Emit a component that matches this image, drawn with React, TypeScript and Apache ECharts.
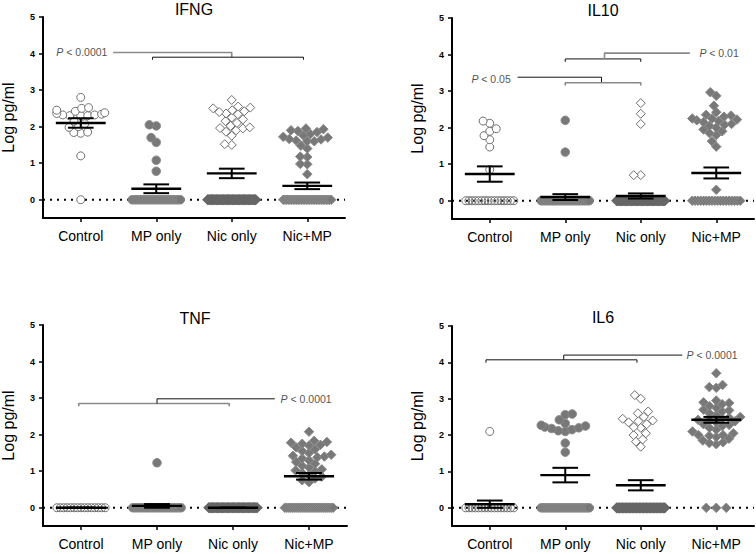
import React, { useEffect, useRef } from 'react';
import * as echarts from 'echarts';

const categories = ['Control', 'MP only', 'Nic only', 'Nic+MP'];
const yTickValues = [0, 1, 2, 3, 4, 5];
const panelTitles = ['IFNG', 'IL10', 'TNF', 'IL6'];

// ---- IFNG (non-zero values per group, number of zero values per group, mean, SEM)
const ifngControl = [2.8, 2.52, 2.5, 2.45, 2.42, 2.38, 2.34, 2.32, 2.3, 2.3, 2.3, 2.32, 2.36, 2.15, 2.08, 2.0, 1.98, 1.85, 1.84, 1.82, 1.2];
const ifngMP = [2.05, 2.02, 1.7, 1.57, 1.08, 0.78];
const ifngNic = [2.73, 2.55, 2.52, 2.5, 2.45, 2.42, 2.4, 2.36, 2.34, 2.25, 2.2, 2.15, 2.1, 2.02, 1.98, 1.96, 1.95, 1.9, 1.86, 1.75, 1.52, 1.5];
const ifngNicMP = [1.95, 1.93, 1.9, 1.88, 1.85, 1.8, 1.76, 1.72, 1.66, 1.62, 1.6, 1.6, 1.65, 1.7, 1.48, 1.4, 1.18, 1.17, 0.98, 0.97, 0.7];
const ifngZeroCounts = [1, 25, 40, 30];
const ifngMeans = [2.1, 0.3, 0.72, 0.38];
const ifngSem = [0.13, 0.12, 0.13, 0.09];

// ---- IL10
const il10Control = [2.18, 2.12, 1.97, 1.9, 1.78, 1.67, 1.47, 0.85];
const il10MP = [2.2, 1.33];
const il10Nic = [2.67, 2.38, 2.1, 0.7, 0.7];
const il10NicMP = [2.97, 2.87, 2.6, 2.42, 2.35, 2.33, 2.3, 2.25, 2.25, 2.22, 2.2, 2.18, 2.15, 2.1, 2.08, 2.05, 2.0, 1.95, 1.9, 1.85, 1.8, 1.63, 1.48, 0.3];
const il10ZeroCounts = [16, 25, 40, 18];
const il10Means = [0.73, 0.1, 0.13, 0.76];
const il10Sem = [0.21, 0.08, 0.07, 0.15];

// ---- TNF
const tnfControl: number[] = [];
const tnfMP = [1.23];
const tnfNic: number[] = [];
const tnfNicMP = [2.08, 1.83, 1.8, 1.78, 1.75, 1.72, 1.7, 1.65, 1.6, 1.55, 1.5, 1.45, 1.42, 1.4, 1.38, 1.35, 1.3, 1.25, 1.2, 1.15, 1.1, 1.05, 1.02, 1.0, 0.95, 0.9, 0.85, 0.8, 0.75, 0.7];
const tnfZeroCounts = [15, 25, 40, 25];
const tnfMeans = [0, 0.05, 0, 0.86];
const tnfSem = [0, 0.05, 0, 0.09];

// ---- IL6
const il6Control = [2.1];
const il6MP = [2.58, 2.56, 2.42, 2.32, 2.27, 2.25, 2.22, 2.2, 2.18, 2.15, 2.12, 2.1, 1.78, 1.53];
const il6Nic = [3.1, 3.0, 2.65, 2.6, 2.5, 2.45, 2.4, 2.38, 2.35, 2.3, 2.22, 2.2, 2.05, 2.0, 1.88, 1.82, 1.68];
const il6NicMP = [3.7, 3.38, 3.32, 3.3, 2.95, 2.9, 2.88, 2.85, 2.8, 2.75, 2.7, 2.68, 2.65, 2.6, 2.55, 2.5, 2.48, 2.45, 2.42, 2.4, 2.38, 2.35, 2.3, 2.28, 2.25, 2.2, 2.15, 2.1, 2.05, 2.0, 2.0, 1.98, 1.95, 1.9, 1.85, 1.8, 1.78, 1.75];
const il6ZeroCounts = [16, 25, 35, 3];
const il6Means = [0.1, 0.9, 0.62, 2.42];
const il6Sem = [0.1, 0.2, 0.14, 0.08];

// ---- significance annotations (data coordinates: x in category units, y in Log pg/ml)
const ifngBrackets = [
  { tone: 'grey', pts: [[0.43, 4.03], [2.0, 4.03], [2.0, 3.9]] },
  { tone: 'black', pts: [[0.95, 3.83], [0.95, 3.9], [2.95, 3.9], [2.95, 3.83]] },
];
const ifngPLabels = [{ x: -0.33, y: 4.03, text: '< 0.0001' }];

const il10Brackets = [
  { tone: 'black', pts: [[1, 3.8], [1, 3.88], [2, 3.88], [2, 3.8]] },
  { tone: 'grey', pts: [[1.52, 3.88], [1.52, 4.04], [2.65, 4.04]] },
  { tone: 'black', pts: [[0.37, 3.38], [1.48, 3.38], [1.48, 3.23]] },
  { tone: 'grey', pts: [[1, 3.15], [1, 3.23], [2, 3.23], [2, 3.15]] },
];
const il10PLabels = [
  { x: 2.77, y: 4.04, text: '< 0.01' },
  { x: -0.25, y: 3.34, text: '< 0.05' },
];

const tnfBrackets = [
  { tone: 'grey', pts: [[-0.03, 2.78], [-0.03, 2.85], [1.95, 2.85], [1.95, 2.78]] },
  { tone: 'black', pts: [[1, 2.85], [1, 2.98], [2.55, 2.98]] },
];
const tnfPLabels = [{ x: 2.62, y: 2.97, text: '< 0.0001' }];

const il6Brackets = [
  { tone: 'black', pts: [[-0.05, 3.99], [-0.05, 4.07], [1.95, 4.07], [1.95, 3.99]] },
  { tone: 'black', pts: [[0.98, 4.07], [0.98, 4.2], [2.55, 4.2]] },
];
const il6PLabels = [{ x: 2.6, y: 4.2, text: '< 0.0001' }];

const panels = [
  { groups: [ifngControl, ifngMP, ifngNic, ifngNicMP], zeros: ifngZeroCounts, means: ifngMeans, sem: ifngSem, brackets: ifngBrackets, pLabels: ifngPLabels },
  { groups: [il10Control, il10MP, il10Nic, il10NicMP], zeros: il10ZeroCounts, means: il10Means, sem: il10Sem, brackets: il10Brackets, pLabels: il10PLabels },
  { groups: [tnfControl, tnfMP, tnfNic, tnfNicMP], zeros: tnfZeroCounts, means: tnfMeans, sem: tnfSem, brackets: tnfBrackets, pLabels: tnfPLabels },
  { groups: [il6Control, il6MP, il6Nic, il6NicMP], zeros: il6ZeroCounts, means: il6Means, sem: il6Sem, brackets: il6Brackets, pLabels: il6PLabels },
];

// ---- layout / style
const FONT = '"Liberation Sans", Arial, Helvetica, sans-serif';
const gridBoxes = [
  { left: 43, top: 17, width: 302, height: 201 },
  { left: 452, top: 18, width: 302, height: 201 },
  { left: 43, top: 325, width: 304, height: 201 },
  { left: 452, top: 326, width: 302, height: 200 },
];
const titlePos = [
  { x: 194, y: 9 },
  { x: 603, y: 10 },
  { x: 195, y: 318 },
  { x: 603, y: 317 },
];
const markerStyles = [
  { symbol: 'circle', size: 8, fill: '#ffffff', stroke: '#707070', open: true },
  { symbol: 'circle', size: 8.5, fill: '#787878', stroke: '#8a8a8a', open: false },
  { symbol: 'diamond', size: 9, fill: '#ffffff', stroke: '#6e6e6e', open: true },
  { symbol: 'diamond', size: 9.5, fill: '#787878', stroke: '#8a8a8a', open: false },
];
const toneColor: Record<string, string> = { grey: '#8a8a8a', black: '#111111' };
const toneWidth: Record<string, number> = { grey: 1.6, black: 1 };

// beeswarm placement (pixel scale approximations used only for spreading points)
const PX_X = 75.5;
const PX_Y = 36.6;
const D = 7;
const MAXW = 24;
const ZERO_STEP = 10;

function swarm(values: number[], zeroCount: number, cat: number, open: boolean): any[] {
  const placed: { x: number; y: number }[] = [];
  const out: any[] = [];
  const sorted = values.slice().sort((a, b) => a - b);
  for (const v of sorted) {
    const y = v * PX_Y;
    const intervals: [number, number][] = [];
    for (const p of placed) {
      const dy = Math.abs(p.y - y);
      if (dy < D) {
        const h = Math.sqrt(D * D - dy * dy);
        intervals.push([p.x - h, p.x + h]);
      }
    }
    const cands = [0];
    intervals.forEach(([a, b]) => cands.push(a, b));
    cands.sort((a, b) => Math.abs(a) - Math.abs(b) || a - b);
    let x = 0;
    for (const c of cands) {
      if (intervals.every(([a, b]) => c <= a + 1e-6 || c >= b - 1e-6)) {
        x = c;
        break;
      }
    }
    x = Math.max(-MAXW, Math.min(MAXW, x));
    placed.push({ x, y });
    out.push({ value: [cat + x / PX_X, v] });
  }
  const w = Math.min(((zeroCount - 1) * ZERO_STEP) / 2, MAXW);
  const dense = zeroCount >= 30;
  for (let i = 0; i < zeroCount; i++) {
    const x = zeroCount === 1 ? 0 : -w + (2 * w * i) / (zeroCount - 1);
    const item: any = { value: [cat + x / PX_X, 0] };
    if (open && zeroCount > 1) {
      item.itemStyle = dense
        ? { color: 'rgba(255,255,255,0)', borderColor: '#666', borderWidth: 1.6 }
        : { color: 'rgba(255,255,255,0)' };
    }
    out.push(item);
  }
  return out;
}

function buildOption() {
  const grid: any[] = [];
  const xAxis: any[] = [];
  const yAxis: any[] = [];
  const series: any[] = [];
  const graphic: any[] = [];

  panels.forEach((panel, p) => {
    grid.push({ ...gridBoxes[p], outerBoundsMode: 'none' });
    xAxis.push({
      gridIndex: p,
      type: 'category',
      data: categories,
      boundaryGap: true,
      axisLine: { show: true, onZero: false, lineStyle: { color: '#000', width: 2 } },
      axisTick: { show: true, alignWithLabel: true, length: 4, lineStyle: { color: '#000', width: 1.5 } },
      axisLabel: { interval: 0, fontSize: 14, color: '#000', margin: 11, fontFamily: FONT },
      splitLine: { show: false },
    });
    xAxis.push({ gridIndex: p, type: 'value', min: -0.5, max: 3.5, show: false });
    yAxis.push({
      gridIndex: p,
      type: 'value',
      min: -0.5,
      max: 5,
      axisLine: { show: true, onZero: false, lineStyle: { color: '#000', width: 2 } },
      axisTick: { show: true, customValues: yTickValues, length: 4, lineStyle: { color: '#000', width: 1.5 } },
      axisLabel: { customValues: yTickValues, fontSize: 9, fontWeight: 'bold', color: '#000', margin: 8, fontFamily: FONT },
      splitLine: { show: false },
      name: 'Log pg/ml',
      nameLocation: 'middle',
      nameGap: 27,
      nameTextStyle: { fontSize: 16, color: '#000', fontFamily: FONT },
    });
    const xi = 2 * p + 1;

    // dotted zero line
    series.push({
      type: 'line',
      xAxisIndex: xi,
      yAxisIndex: p,
      data: [[-0.5, 0], [3.5, 0]],
      symbol: 'none',
      silent: true,
      z: 1,
      lineStyle: { color: '#000', width: 2, type: [2, 5] },
    });

    panel.groups.forEach((vals, g) => {
      const m = markerStyles[g];
      series.push({
        type: 'scatter',
        xAxisIndex: xi,
        yAxisIndex: p,
        data: swarm(vals, panel.zeros[g], g, m.open),
        symbol: m.symbol,
        symbolSize: m.size,
        silent: true,
        z: 3,
        itemStyle: { color: m.fill, borderColor: m.stroke, borderWidth: 1, opacity: 1 },
      });
    });

    // mean ± SEM
    series.push({
      type: 'custom',
      xAxisIndex: xi,
      yAxisIndex: p,
      z: 5,
      silent: true,
      encode: { x: 0, y: 1 },
      data: panel.means.map((mv, g) => [g, mv, panel.sem[g]]),
      renderItem: (params: any, api: any) => {
        const c = api.value(0);
        const mv = api.value(1);
        const s = api.value(2);
        const ml = api.coord([c - 0.33, mv]);
        const mr = api.coord([c + 0.33, mv]);
        const tl = api.coord([c - 0.17, mv + s]);
        const tr = api.coord([c + 0.17, mv + s]);
        const bl = api.coord([c - 0.17, mv - s]);
        const br = api.coord([c + 0.17, mv - s]);
        const st = { stroke: '#000', lineWidth: 2 };
        return {
          type: 'group',
          children: [
            { type: 'line', shape: { x1: ml[0], y1: ml[1], x2: mr[0], y2: mr[1] }, style: { stroke: '#000', lineWidth: 2.4 } },
            { type: 'line', shape: { x1: tl[0], y1: tl[1], x2: tr[0], y2: tr[1] }, style: st },
            { type: 'line', shape: { x1: bl[0], y1: bl[1], x2: br[0], y2: br[1] }, style: st },
            { type: 'line', shape: { x1: (tl[0] + tr[0]) / 2, y1: tl[1], x2: (bl[0] + br[0]) / 2, y2: bl[1] }, style: st },
          ],
        };
      },
    });

    panel.brackets.forEach((b) => {
      series.push({
        type: 'line',
        xAxisIndex: xi,
        yAxisIndex: p,
        data: b.pts,
        symbol: 'none',
        silent: true,
        z: 4,
        lineStyle: { color: toneColor[b.tone], width: toneWidth[b.tone] },
      });
    });

    series.push({
      type: 'scatter',
      xAxisIndex: xi,
      yAxisIndex: p,
      symbolSize: 1,
      silent: true,
      z: 6,
      itemStyle: { color: 'rgba(0,0,0,0)' },
      data: panel.pLabels.map((l) => ({ value: [l.x, l.y], name: l.text })),
      label: {
        show: true,
        position: 'right',
        distance: 0,
        color: '#222',
        fontSize: 10.5,
        fontFamily: FONT,
        formatter: (d: any) => '{i|P} ' + d.name,
        rich: { i: { fontStyle: 'italic', fontSize: 10.5, fontFamily: FONT, color: '#222' } },
      },
    });

    graphic.push({
      type: 'text',
      x: titlePos[p].x,
      y: titlePos[p].y,
      silent: true,
      style: {
        text: panelTitles[p],
        fill: '#000',
        fontSize: 16,
        fontFamily: FONT,
        textAlign: 'center',
        textVerticalAlign: 'middle',
      },
    });
  });

  return { animation: false, backgroundColor: '#fff', grid, xAxis, yAxis, series, graphic };
}

export default function App() {
  const ref = useRef<HTMLDivElement>(null);
  useEffect(() => {
    if (!ref.current) return;
    const chart = echarts.init(ref.current, undefined, { renderer: 'svg' });
    chart.setOption(buildOption() as any);
    return () => chart.dispose();
  }, []);
  return <div ref={ref} style={{ position: 'fixed', left: 0, top: 0, width: 756, height: 554, background: '#fff' }} />;
}
